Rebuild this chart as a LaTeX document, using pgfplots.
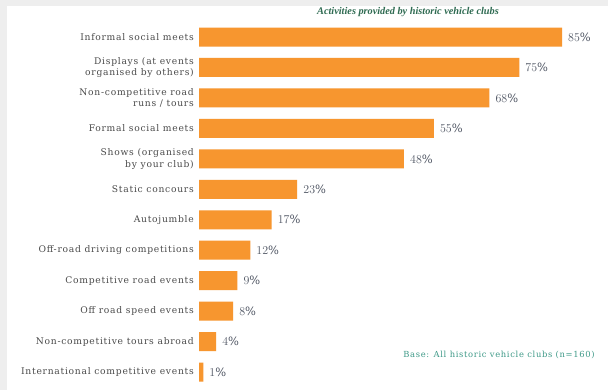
\documentclass[border=0pt]{standalone}
\usepackage{pgfplots}
\pgfplotsset{compat=1.18}
\usepackage{fontspec}
\setmainfont{DejaVu Serif}
\newfontfamily\titlefont{Liberation Serif}
\newfontfamily\spaced[LetterSpace=8]{DejaVu Serif}
\definecolor{barorange}{HTML}{F7962F}
\definecolor{titlegreen}{HTML}{2F6B52}
\definecolor{labelgray}{HTML}{4A4A4A}
\definecolor{valcol}{HTML}{4F5563}
\definecolor{basecol}{HTML}{3F9A88}
\definecolor{bggray}{HTML}{EEEEEE}
\pgfplotstableread[col sep=comma]{
idx,val
0,85
1,75
2,68
3,55
4,48
5,23
6,17
7,12
8,9
9,8
10,4
11,1
}\clubdata
\begin{document}
\begin{tikzpicture}[x=1bp,y=1bp]
\fill[white] (0,0) rectangle (608,390);
\fill[bggray] (0,384) rectangle (608,390);
\fill[bggray] (0,0) rectangle (7,390);
\node[font=\titlefont\bfseries\itshape\fontsize{10.3}{12}\selectfont, text=titlegreen] at (408,378) {Activities provided by historic vehicle clubs};
\begin{axis}[
  at={(199bp,368.2bp)}, anchor=north west,
  scale only axis, width=363bp, height=365.5bp,
  xmin=0, xmax=85,
  ymin=-0.5, ymax=11.5, y dir=reverse,
  xbar, bar width=19bp,
  axis line style={draw=none},
  xtick=\empty,
  ytick={0,...,11},
  major tick length=0pt,
  yticklabels={
    Informal social meets,
    {Displays (at events\\organised by others)},
    {Non-competitive road\\runs / tours},
    Formal social meets,
    {Shows (organised\\by your club)},
    Static concours,
    Autojumble,
    Off-road driving competitions,
    Competitive road events,
    Off road speed events,
    Non-competitive tours abroad,
    International competitive events},
  yticklabel style={align=right, font=\spaced\fontsize{9.2}{11.5}\selectfont, text=labelgray, inner sep=1bp, xshift=-4bp},
  nodes near coords={\pgfmathprintnumber{\pgfplotspointmeta}\%},
  nodes near coords style={font=\spaced\fontsize{11.5}{13}\selectfont, text=valcol, anchor=west, inner sep=0bp, xshift=6bp},
  point meta=x,
  clip=false,
]
\addplot[fill=barorange, draw=none] table[x=val, y=idx] {\clubdata};
\end{axis}
\node[font=\spaced\fontsize{8.4}{10}\selectfont, text=basecol] at (499,35) {Base: All historic vehicle clubs (n=160)};
\end{tikzpicture}
\end{document}
